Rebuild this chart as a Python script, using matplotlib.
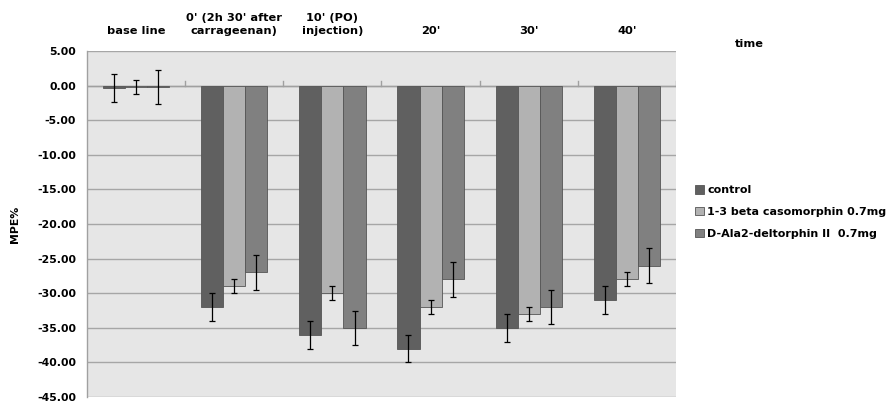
import numpy as np
import matplotlib.pyplot as plt

# time points (category labels, shown above the plot)
categories = ["base line", "0' (2h 30' after\ncarrageenan)", "10' (PO)\ninjection)",
              "20'", "30'", "40'"]

# MPE% values and error bars
control = [-0.3, -32, -36, -38, -35, -31]
control_err = [2.0, 2.0, 2.0, 2.0, 2.0, 2.0]
caso = [-0.2, -29, -30, -32, -33, -28]
caso_err = [1.0, 1.0, 1.0, 1.0, 1.0, 1.0]
delt = [-0.2, -27, -35, -28, -32, -26]
delt_err = [2.4, 2.5, 2.5, 2.5, 2.5, 2.5]

series = [
    ("control", control, control_err, "#606060"),
    ("1-3 beta casomorphin 0.7mg", caso, caso_err, "#b2b2b2"),
    ("D-Ala2-deltorphin II  0.7mg", delt, delt_err, "#808080"),
]

plt.rcParams['font.family'] = 'DejaVu Sans'
plt.rcParams['font.weight'] = 'bold'

fig = plt.figure(figsize=(8.9, 4.03), dpi=100)
ax = fig.add_axes([87 / 890, 6 / 403, (676 - 87) / 890, (397 - 51) / 403])
ax.set_facecolor("#e6e6e6")

x = np.arange(len(categories))
w = 0.225
for i, (name, vals, errs, col) in enumerate(series):
    ax.bar(x + (i - 1) * w, vals, w, color=col, edgecolor="#555555", linewidth=0.6,
           label=name, zorder=3)
    ax.errorbar(x + (i - 1) * w, vals, yerr=errs, fmt='none', ecolor='black',
                elinewidth=0.9, capsize=2.5, capthick=0.9, zorder=4)

ax.set_xlim(-0.5, len(categories) - 0.5)
ax.set_ylim(-45, 5)
ax.set_yticks(np.arange(-45, 5.1, 5))
ax.set_yticklabels([f"{v:.2f}" for v in np.arange(-45, 5.1, 5)], fontsize=7.8, fontweight='bold')
ax.yaxis.grid(True, color="#a6a6a6", linewidth=1.0, zorder=0)
ax.tick_params(axis='y', length=0, pad=8)

# category labels on top
ax.set_xticks([])
for xi, lab in zip(x, categories):
    ax.text(xi, 7.2, lab, ha='center', va='bottom', fontsize=8.2, fontweight='bold',
            linespacing=1.3)
ax.text(6.25, 5.3, "time", ha='center', va='bottom', fontsize=8.2, fontweight='bold')

# zero line with small ticks between categories
ax.axhline(0, color="#a0a0a0", linewidth=1.0, zorder=2)
for b in np.arange(0.5, len(categories), 1):
    ax.plot([b, b], [0, 0.6], color="#a0a0a0", linewidth=1.0, zorder=2)

for s in ['top', 'right', 'bottom']:
    ax.spines[s].set_visible(False)
ax.spines['left'].set_color("#a0a0a0")
ax.spines['left'].set_linewidth(1.0)

ax.set_ylabel("MPE%", fontsize=7.8, fontweight='bold', labelpad=12)

leg = ax.legend(loc='upper left', bbox_to_anchor=(1.025, 0.625), frameon=False,
                fontsize=8.0, handlelength=0.8, handleheight=0.8, handletextpad=0.3,
                labelspacing=1.05, borderaxespad=0)
for t in leg.get_texts():
    t.set_fontweight('bold')

fig.savefig("out.png", dpi=100)
